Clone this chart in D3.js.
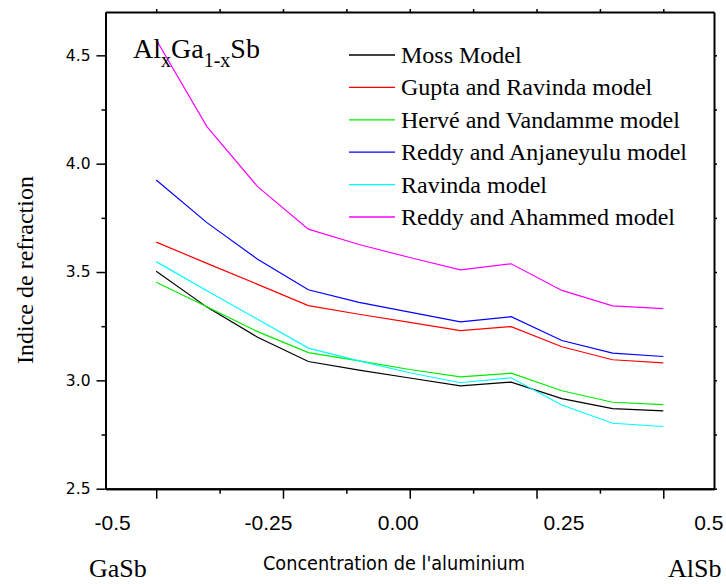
<!DOCTYPE html>
<head>
  <meta charset="utf-8">
  <script src="https://cdn.jsdelivr.net/npm/d3@7"></script>
  <style>
    body { margin: 0; background: #fff; }
    text.serif { font-family: "Liberation Serif", "Times New Roman", serif; fill: #000; }
    .xAxis .tick text { font-family: "Liberation Sans", Arial, sans-serif; font-size: 21px; fill: #000; }
    .yAxis .tick text { font-family: "DejaVu Sans", Verdana, sans-serif; font-size: 15.5px; fill: #000; }
    .axis path.domain { stroke: #000; stroke-width: 2; }
    .axis .tick line { stroke: #000; stroke-width: 1.5; }
    path.series { fill: none; stroke-width: 1.2; }
  </style>
</head>
<body>
  <svg width="726" height="584"></svg>
  <script>
    // composition x of Al in AlxGa1-xSb
    const composition = [0, 0.1, 0.2, 0.3, 0.4, 0.5, 0.6, 0.7, 0.8, 0.9, 1.0];

    const seriesNames = ["Moss Model", "Gupta and Ravinda model", "Hervé and Vandamme model",
      "Reddy and Anjaneyulu model", "Ravinda model", "Reddy and Ahammed model"];
    const seriesColors = ["#000000", "#ff0000", "#00ee00", "#0000ff", "#00ffff", "#ff00ff"];

    const moss = [3.504, 3.338, 3.199, 3.087, 3.047, 3.011, 2.975, 2.992, 2.916, 2.870, 2.859];
    const gupta = [3.638, 3.540, 3.443, 3.345, 3.305, 3.268, 3.230, 3.248, 3.155, 3.095, 3.081];
    const herve = [3.453, 3.340, 3.225, 3.128, 3.090, 3.050, 3.016, 3.033, 2.952, 2.899, 2.888];
    const reddyAnj = [3.925, 3.728, 3.559, 3.418, 3.360, 3.315, 3.270, 3.294, 3.184, 3.126, 3.110];
    const ravinda = [3.548, 3.414, 3.282, 3.149, 3.090, 3.035, 2.989, 3.012, 2.886, 2.802, 2.787];
    const reddyAha = [4.572, 4.171, 3.894, 3.698, 3.627, 3.567, 3.510, 3.538, 3.415, 3.344, 3.331];
    const seriesValues = [moss, gupta, herve, reddyAnj, ravinda, reddyAha];

    const xTicks = [0, 0.25, 0.5, 0.75, 1.0];
    const xTickLabels = ["-0.5", "-0.25", "0.00", "0.25", "0.5"];
    const xMinorTicks = [0.125, 0.375, 0.625, 0.875];
    const yTicks = [2.5, 3.0, 3.5, 4.0, 4.5];
    const yMinorTicks = [2.75, 3.25, 3.75, 4.25];

    const svg = d3.select("svg");
    const plot = { left: 105.5, right: 714, top: 12, bottom: 488.7 };

    const x = d3.scaleLinear().domain([-0.1, 1.1]).range([plot.left, plot.right]);
    const y = d3.scaleLinear().domain([2.5, 4.7]).range([plot.bottom, plot.top]);

    // the tick labels of the original sit off their ticks
    const labelShift = [-44, -15, -12, 27, 45];

    // bottom axis
    svg.append("g")
      .attr("class", "axis xAxis")
      .attr("transform", `translate(0, ${plot.bottom})`)
      .call(d3.axisBottom(x).tickValues(xTicks).tickSize(10).tickSizeOuter(0)
        .tickPadding(16).tickFormat((d, i) => xTickLabels[i]))
      .selectAll(".tick text")
      .attr("dx", (d, i) => labelShift[i]);
    svg.append("g")
      .attr("class", "axis")
      .attr("transform", `translate(0, ${plot.bottom})`)
      .call(d3.axisBottom(x).tickValues(xMinorTicks).tickSize(5).tickSizeOuter(0).tickFormat(""));

    // left axis
    svg.append("g")
      .attr("class", "axis yAxis")
      .attr("transform", `translate(${plot.left}, 0)`)
      .call(d3.axisLeft(y).tickValues(yTicks).tickSize(9).tickSizeOuter(0)
        .tickPadding(6).tickFormat(d3.format(".1f")));
    svg.append("g")
      .attr("class", "axis")
      .attr("transform", `translate(${plot.left}, 0)`)
      .call(d3.axisLeft(y).tickValues(yMinorTicks).tickSize(4).tickSizeOuter(0).tickFormat(""));

    // top and right frame with small ticks
    svg.append("g")
      .attr("class", "axis")
      .attr("transform", `translate(0, ${plot.top})`)
      .call(d3.axisTop(x).tickValues(xTicks.concat(xMinorTicks)).tickSize(3).tickSizeOuter(0).tickFormat(""));
    svg.append("g")
      .attr("class", "axis")
      .attr("transform", `translate(${plot.right}, 0)`)
      .call(d3.axisRight(y).tickValues(yTicks.concat(yMinorTicks)).tickSize(3).tickSizeOuter(0).tickFormat(""));

    // lines
    const line = d3.line()
      .x((d, i) => x(composition[i]))
      .y(d => y(d));

    svg.selectAll("path.series")
      .data(seriesValues)
      .enter()
      .append("path")
      .attr("class", "series")
      .attr("stroke", (d, i) => seriesColors[i])
      .attr("d", line);

    // legend
    const legend = svg.append("g").attr("transform", "translate(349, 55)");
    const rows = legend.selectAll("g")
      .data(seriesNames)
      .enter()
      .append("g")
      .attr("transform", (d, i) => `translate(0, ${i * 32.4})`);
    rows.append("line")
      .attr("x1", 0).attr("x2", 46)
      .attr("stroke", (d, i) => seriesColors[i])
      .attr("stroke-width", 1.3);
    rows.append("text")
      .attr("class", "serif")
      .attr("x", 52)
      .attr("y", 8)
      .style("font-size", "24px")
      .text(d => d);

    // compound name
    const title = svg.append("text")
      .attr("class", "serif")
      .attr("x", 133)
      .attr("y", 58)
      .style("font-size", "28px");
    title.append("tspan").text("Al");
    title.append("tspan").attr("dy", 9).style("font-size", "20px").text("x");
    title.append("tspan").attr("dy", -9).text("Ga");
    title.append("tspan").attr("dy", 9).style("font-size", "20px").text("1-x");
    title.append("tspan").attr("dy", -9).text("Sb");

    // axis titles
    svg.append("text")
      .attr("class", "serif")
      .attr("transform", "translate(33, 270) rotate(-90)")
      .style("text-anchor", "middle")
      .style("font-size", "24px")
      .text("Indice de refraction");

    svg.append("text")
      .attr("x", 263)
      .attr("y", 570)
      .attr("textLength", 262)
      .attr("lengthAdjust", "spacingAndGlyphs")
      .style("font-family", "'DejaVu Sans Condensed', 'Liberation Sans', sans-serif")
      .style("font-size", "20px")
      .text("Concentration de l'aluminium");

    svg.append("text")
      .attr("class", "serif")
      .attr("x", 89)
      .attr("y", 577)
      .style("font-size", "26px")
      .text("GaSb");

    svg.append("text")
      .attr("class", "serif")
      .attr("x", 668)
      .attr("y", 577)
      .style("font-size", "26px")
      .text("AlSb");
  </script>
</body>
